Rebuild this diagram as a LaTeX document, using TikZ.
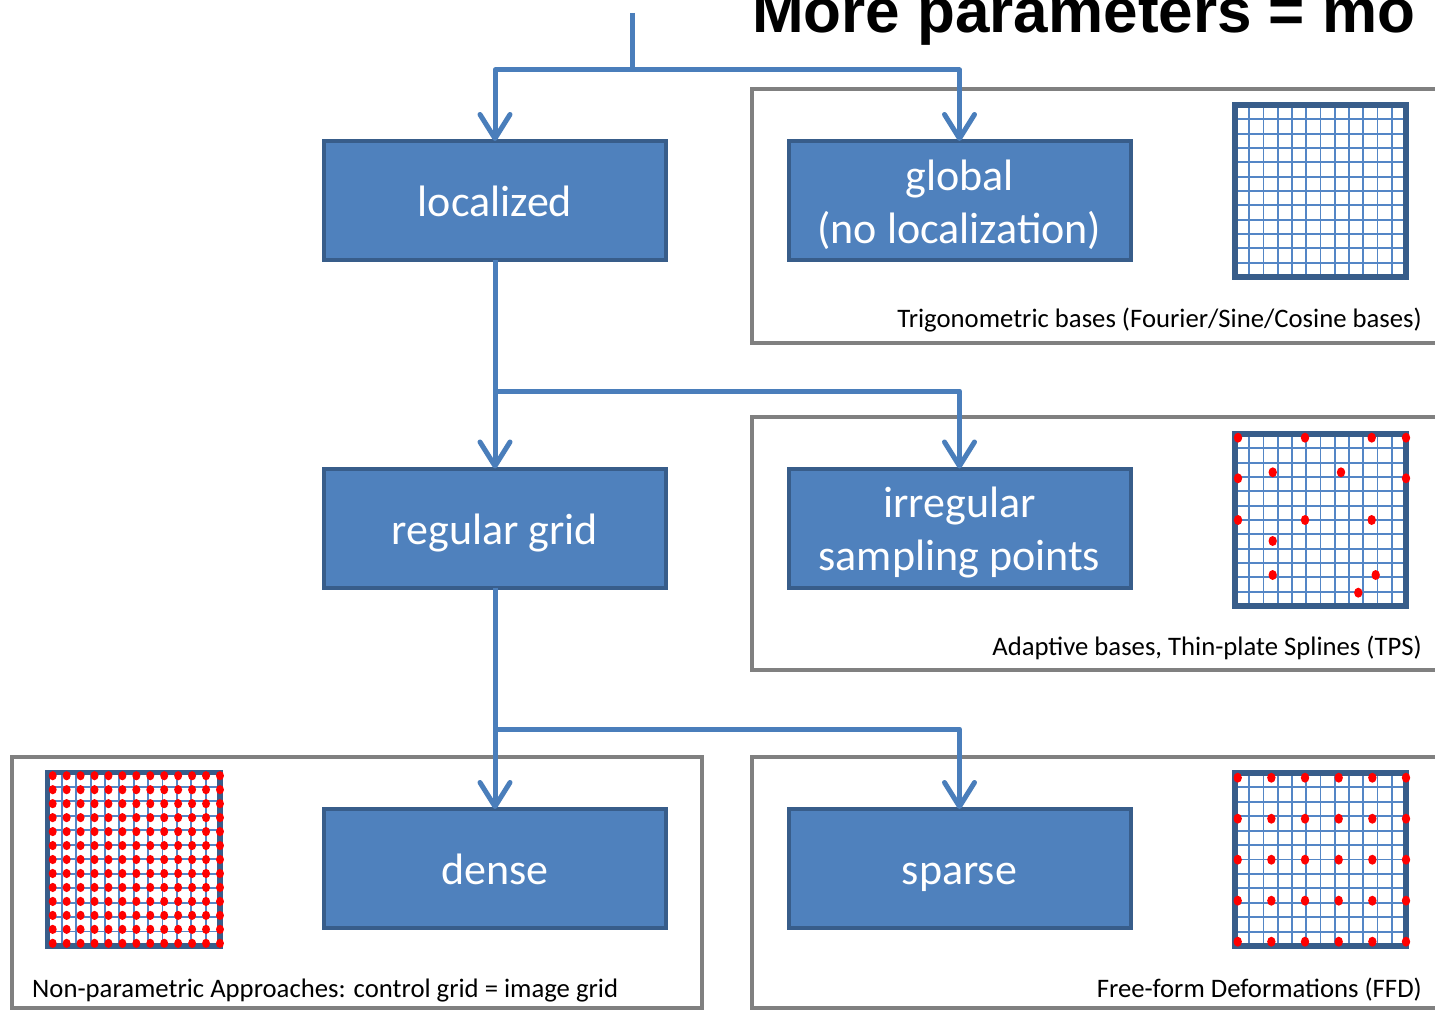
\documentclass[tikz,border=0pt]{standalone}
\usepackage{fontspec}
\setmainfont{Carlito}
\newfontfamily\titlefont{Liberation Sans}
\usetikzlibrary{arrows.meta}

\definecolor{boxfill}{RGB}{79,129,189}
\definecolor{boxline}{RGB}{56,93,138}
\definecolor{flowblue}{RGB}{74,126,187}
\definecolor{panelgray}{RGB}{128,128,128}
\definecolor{meshblue}{RGB}{84,134,198}
\definecolor{dotred}{RGB}{255,0,0}

% line strut for the block labels
\newcommand{\blockstrut}{\rule[-10.4pt]{0pt}{53pt}}

% mesh of 12 x 12 cells with a heavy outline: corners (#1,#2) and (#3,#4)
\newcommand{\meshbox}[4]{%
  \foreach \k in {1,...,11}{%
    \draw[meshline] ({#1+\k*(#3-#1)/12},#2) -- ({#1+\k*(#3-#1)/12},#4);
    \draw[meshline] (#1,{#2+\k*(#4-#2)/12}) -- (#3,{#2+\k*(#4-#2)/12});
  }%
  \draw[meshframe] (#1,#2) rectangle (#3,#4);
}

\begin{document}
\begin{tikzpicture}[x=1pt,y=-1pt,
  block/.style={draw=boxline, fill=boxfill, line width=4pt,
    minimum width=342pt, minimum height=119pt, text=white,
    font=\fontsize{44}{53}\selectfont, align=center,
    inner sep=0pt, outer sep=0pt},
  flow/.style={draw=flowblue, line width=5pt, line join=round},
  arr/.style={flow, -{Straight Barb[length=24pt,width=30pt,round]}},
  panel/.style={draw=panelgray, line width=4pt},
  caption/.style={font=\fontsize{26.7}{30}\selectfont, inner sep=0pt},
  meshline/.style={draw=meshblue, line width=1.9pt},
  meshframe/.style={draw=boxline, line width=5.5pt},
  dot/.style={fill=dotred},
]
\useasboundingbox (0,0) rectangle (1435,1011);
\clip (0,0) rectangle (1435,1011);
\fill[white] (0,0) rectangle (1435,1011);

% framed panels
\draw[panel] (752,89) rectangle (1450,343);
\draw[panel] (752,417) rectangle (1450,670);
\draw[panel] (12,757) rectangle (702,1008);
\draw[panel] (752,757) rectangle (1450,1008);

% title
\node[anchor=base west, inner sep=0pt,
  font=\titlefont\bfseries\fontsize{62}{62}\selectfont] (title) at (752,33)
  {More parameters = mo};

% meshes
\meshbox{1235}{105}{1406}{277}
\meshbox{1235}{434}{1406}{606}
\meshbox{1235}{773}{1406}{946}
\meshbox{47.5}{772.5}{220}{946}

% irregular control points
\foreach \px/\py in {1238/437.7,1305/437.7,1371.7/437.7,1406/437.7,
    1272.7/472.3,1341/472.3,1238/478.3,1406/478.3,
    1238/520,1305/520,1371.7/520,1272.7/541,
    1272.7/575,1375.7/575,1358.3/592.7}
  \fill[dot] (\px,\py) ellipse[x radius=4.2pt, y radius=5pt];

% regular sparse control points
\foreach \i in {0,...,5}
  \foreach \j in {0,...,4}
    \fill[dot] ({1237.7+33.66*\i},{777.7+41*\j}) ellipse[x radius=4.2pt, y radius=5pt];

% dense control points
\foreach \i in {0,...,12}
  \foreach \j in {0,...,12}
    \fill[dot] ({52.7+13.94*\i},{775.7+13.97*\j}) ellipse[x radius=4pt, y radius=4.6pt];

% decision blocks
\node[block] (loc)    at (495,200.5)   {\blockstrut localized};
\node[block] (glob)   at (959.5,200.5) {\blockstrut global\\\blockstrut(no localization)};
\node[block] (reg)    at (495,528)     {\blockstrut regular grid};
\node[block] (irr)    at (959.5,528)   {\blockstrut irregular\\\blockstrut sampling points};
\node[block] (dense)  at (495,868.5)   {\blockstrut dense};
\node[block] (sparse) at (959.5,868.5) {\blockstrut sparse};

% connectors
\coordinate (src)   at (632,13);
\coordinate (fork0) at (632,70);
\coordinate (fork1) at (495,391);
\coordinate (fork2) at (495,729);
\draw[flow] (src) -- (fork0);
\draw[arr] (fork0) -| (loc.north);
\draw[arr] (fork0) -| (glob.north);
\draw[arr] (loc.south) -- (reg.north);
\draw[arr] (fork1) -| (irr.north);
\draw[arr] (reg.south) -- (dense.north);
\draw[arr] (fork2) -| (sparse.north);

% panel captions
\node[caption, anchor=base east] (capA) at (1422,327) {Trigonometric bases (Fourier/Sine/Cosine bases)};
\node[caption, anchor=base east] (capB) at (1422,655) {Adaptive bases, Thin-plate Splines (TPS)};
\node[caption, anchor=base west] (capC) at (32,997) {Non-parametric Approaches: control grid = image grid};
\node[caption, anchor=base east] (capD) at (1422,997) {Free-form Deformations (FFD)};
\end{tikzpicture}
\end{document}
